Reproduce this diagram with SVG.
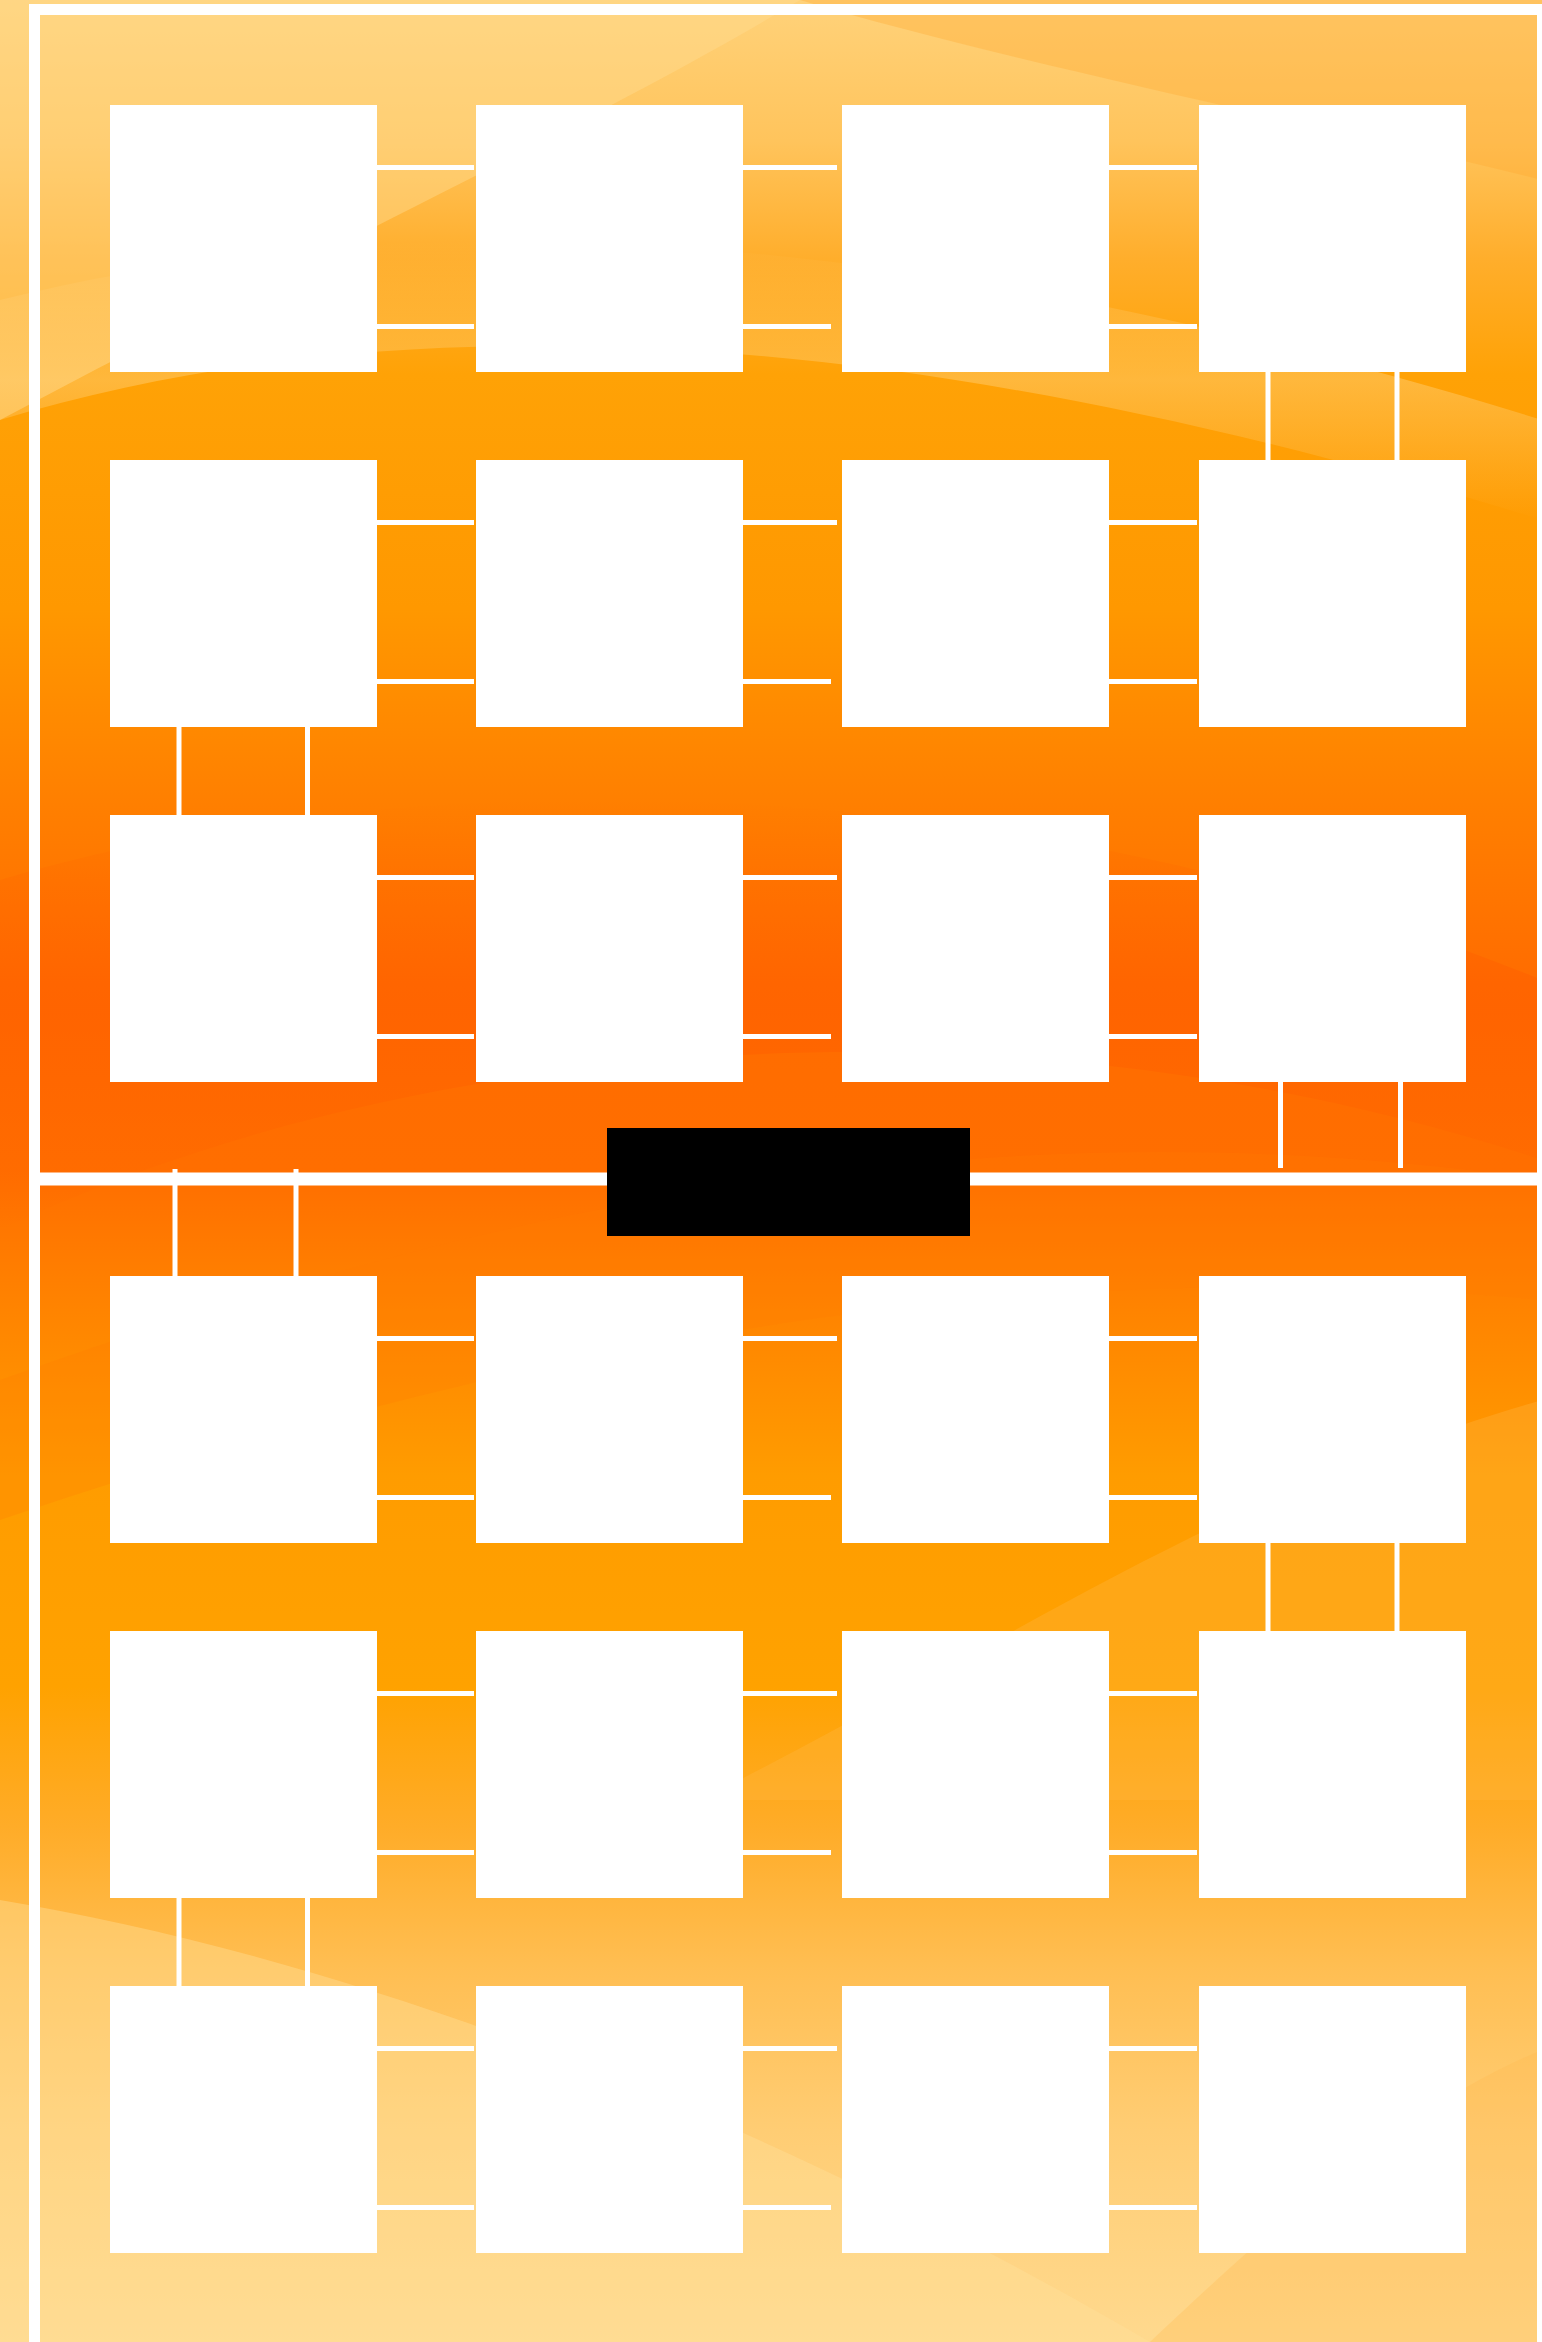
<svg xmlns="http://www.w3.org/2000/svg" width="1542" height="2342" viewBox="0 0 1542 2342">
<defs>
<linearGradient id="bg" x1="0" y1="0" x2="0" y2="1">
<stop offset="0" stop-color="#FFD27A"/>
<stop offset="0.06" stop-color="#FFC45C"/>
<stop offset="0.11" stop-color="#FFAE2C"/>
<stop offset="0.16" stop-color="#FFA206"/>
<stop offset="0.26" stop-color="#FF9800"/>
<stop offset="0.34" stop-color="#FF8000"/>
<stop offset="0.42" stop-color="#FF6C00"/>
<stop offset="0.5" stop-color="#FF6E00"/>
<stop offset="0.56" stop-color="#FF8400"/>
<stop offset="0.63" stop-color="#FF9C00"/>
<stop offset="0.72" stop-color="#FFA200"/>
<stop offset="0.78" stop-color="#FFAC28"/>
<stop offset="0.84" stop-color="#FFBE52"/>
<stop offset="0.91" stop-color="#FFCD74"/>
<stop offset="1" stop-color="#FFD98E"/>
</linearGradient>
<linearGradient id="darkband" x1="0" y1="0" x2="0" y2="1">
<stop offset="0" stop-color="#FF5A00" stop-opacity="0"/>
<stop offset="0.5" stop-color="#FF5A00" stop-opacity="0.45"/>
<stop offset="1" stop-color="#FF5A00" stop-opacity="0"/>
</linearGradient>
<linearGradient id="lightband" x1="0" y1="0" x2="0" y2="1">
<stop offset="0" stop-color="#FFE0A0" stop-opacity="0"/>
<stop offset="0.5" stop-color="#FFE0A0" stop-opacity="0.35"/>
<stop offset="1" stop-color="#FFE0A0" stop-opacity="0"/>
</linearGradient>
<style>
.node{fill:#FFFFFF;}
.conn{stroke:#FFFFFF;stroke-width:5;fill:none;}
.frame{stroke:#FFFFFF;fill:none;}
</style>
</defs>
<g id="background">
<rect x="0" y="0" width="1542" height="2342" fill="url(#bg)"/>
<path d="M0 0 L800 0 C600 120 300 260 0 420 Z" fill="#FFDC90" opacity="0.45"/>
<path d="M1542 0 L800 0 C1000 60 1300 120 1542 180 Z" fill="#FFA830" opacity="0.35"/>
<path d="M0 300 C400 200 900 220 1542 420 L1542 520 C900 320 400 300 0 420 Z" fill="url(#lightband)"/>
<path d="M0 880 C400 760 1000 760 1542 980 L1542 1160 C1000 980 400 1040 0 1230 Z" fill="url(#darkband)"/>
<path d="M0 1380 C500 1200 1000 1100 1542 1180 L1542 1300 C1000 1250 500 1350 0 1520 Z" fill="#FF7A00" opacity="0.25"/>
<path d="M1542 1400 C1200 1500 1000 1650 700 1800 L1542 1800 Z" fill="#FFB84A" opacity="0.3"/>
<path d="M0 1900 C300 1950 700 2080 1150 2342 L0 2342 Z" fill="#FFE09A" opacity="0.4"/>
<path d="M1150 2342 C1300 2200 1420 2100 1542 2050 L1542 2342 Z" fill="#FFB850" opacity="0.3"/>
</g>
<g id="frame">
<rect class="frame" x="34.5" y="9.5" width="1508" height="2400" stroke-width="11"/>
<line class="frame" x1="29" y1="1179" x2="1542" y2="1179" stroke-width="13"/>
</g>
<g id="connectors">
<line class="conn" x1="377" y1="167.5" x2="474" y2="167.5"/>
<line class="conn" x1="377" y1="326.5" x2="474" y2="326.5"/>
<line class="conn" x1="743" y1="167.5" x2="837" y2="167.5"/>
<line class="conn" x1="743" y1="326.5" x2="831" y2="326.5"/>
<line class="conn" x1="1109" y1="167.5" x2="1197" y2="167.5"/>
<line class="conn" x1="1109" y1="326.5" x2="1197" y2="326.5"/>
<line class="conn" x1="1268" y1="372" x2="1268" y2="460"/>
<line class="conn" x1="1397" y1="372" x2="1397" y2="460"/>
<line class="conn" x1="377" y1="522.5" x2="474" y2="522.5"/>
<line class="conn" x1="377" y1="681.5" x2="474" y2="681.5"/>
<line class="conn" x1="743" y1="522.5" x2="837" y2="522.5"/>
<line class="conn" x1="743" y1="681.5" x2="831" y2="681.5"/>
<line class="conn" x1="1109" y1="522.5" x2="1197" y2="522.5"/>
<line class="conn" x1="1109" y1="681.5" x2="1197" y2="681.5"/>
<line class="conn" x1="179" y1="727" x2="179" y2="815"/>
<line class="conn" x1="307.5" y1="727" x2="307.5" y2="815"/>
<line class="conn" x1="377" y1="877.5" x2="474" y2="877.5"/>
<line class="conn" x1="377" y1="1036.5" x2="474" y2="1036.5"/>
<line class="conn" x1="743" y1="877.5" x2="837" y2="877.5"/>
<line class="conn" x1="743" y1="1036.5" x2="831" y2="1036.5"/>
<line class="conn" x1="1109" y1="877.5" x2="1197" y2="877.5"/>
<line class="conn" x1="1109" y1="1036.5" x2="1197" y2="1036.5"/>
<line class="conn" x1="1280.5" y1="1082" x2="1280.5" y2="1168"/>
<line class="conn" x1="1400.5" y1="1082" x2="1400.5" y2="1168"/>
<line class="conn" x1="175" y1="1169" x2="175" y2="1276"/>
<line class="conn" x1="296" y1="1169" x2="296" y2="1276"/>
<line class="conn" x1="377" y1="1338.5" x2="474" y2="1338.5"/>
<line class="conn" x1="377" y1="1497.5" x2="474" y2="1497.5"/>
<line class="conn" x1="743" y1="1338.5" x2="837" y2="1338.5"/>
<line class="conn" x1="743" y1="1497.5" x2="831" y2="1497.5"/>
<line class="conn" x1="1109" y1="1338.5" x2="1197" y2="1338.5"/>
<line class="conn" x1="1109" y1="1497.5" x2="1197" y2="1497.5"/>
<line class="conn" x1="1268" y1="1543" x2="1268" y2="1631"/>
<line class="conn" x1="1397" y1="1543" x2="1397" y2="1631"/>
<line class="conn" x1="377" y1="1693.5" x2="474" y2="1693.5"/>
<line class="conn" x1="377" y1="1852.5" x2="474" y2="1852.5"/>
<line class="conn" x1="743" y1="1693.5" x2="837" y2="1693.5"/>
<line class="conn" x1="743" y1="1852.5" x2="831" y2="1852.5"/>
<line class="conn" x1="1109" y1="1693.5" x2="1197" y2="1693.5"/>
<line class="conn" x1="1109" y1="1852.5" x2="1197" y2="1852.5"/>
<line class="conn" x1="179" y1="1898" x2="179" y2="1986"/>
<line class="conn" x1="307.5" y1="1898" x2="307.5" y2="1986"/>
<line class="conn" x1="377" y1="2048.5" x2="474" y2="2048.5"/>
<line class="conn" x1="377" y1="2207.5" x2="474" y2="2207.5"/>
<line class="conn" x1="743" y1="2048.5" x2="837" y2="2048.5"/>
<line class="conn" x1="743" y1="2207.5" x2="831" y2="2207.5"/>
<line class="conn" x1="1109" y1="2048.5" x2="1197" y2="2048.5"/>
<line class="conn" x1="1109" y1="2207.5" x2="1197" y2="2207.5"/>
</g>
<g id="label-box"><rect x="607" y="1128" width="363" height="108" fill="#000000"/></g>
<g id="n1-1"><rect class="node" x="110" y="105" width="267" height="267"/></g>
<g id="n1-2"><rect class="node" x="476" y="105" width="267" height="267"/></g>
<g id="n1-3"><rect class="node" x="842" y="105" width="267" height="267"/></g>
<g id="n1-4"><rect class="node" x="1199" y="105" width="267" height="267"/></g>
<g id="n2-1"><rect class="node" x="110" y="460" width="267" height="267"/></g>
<g id="n2-2"><rect class="node" x="476" y="460" width="267" height="267"/></g>
<g id="n2-3"><rect class="node" x="842" y="460" width="267" height="267"/></g>
<g id="n2-4"><rect class="node" x="1199" y="460" width="267" height="267"/></g>
<g id="n3-1"><rect class="node" x="110" y="815" width="267" height="267"/></g>
<g id="n3-2"><rect class="node" x="476" y="815" width="267" height="267"/></g>
<g id="n3-3"><rect class="node" x="842" y="815" width="267" height="267"/></g>
<g id="n3-4"><rect class="node" x="1199" y="815" width="267" height="267"/></g>
<g id="n4-1"><rect class="node" x="110" y="1276" width="267" height="267"/></g>
<g id="n4-2"><rect class="node" x="476" y="1276" width="267" height="267"/></g>
<g id="n4-3"><rect class="node" x="842" y="1276" width="267" height="267"/></g>
<g id="n4-4"><rect class="node" x="1199" y="1276" width="267" height="267"/></g>
<g id="n5-1"><rect class="node" x="110" y="1631" width="267" height="267"/></g>
<g id="n5-2"><rect class="node" x="476" y="1631" width="267" height="267"/></g>
<g id="n5-3"><rect class="node" x="842" y="1631" width="267" height="267"/></g>
<g id="n5-4"><rect class="node" x="1199" y="1631" width="267" height="267"/></g>
<g id="n6-1"><rect class="node" x="110" y="1986" width="267" height="267"/></g>
<g id="n6-2"><rect class="node" x="476" y="1986" width="267" height="267"/></g>
<g id="n6-3"><rect class="node" x="842" y="1986" width="267" height="267"/></g>
<g id="n6-4"><rect class="node" x="1199" y="1986" width="267" height="267"/></g>
</svg>
